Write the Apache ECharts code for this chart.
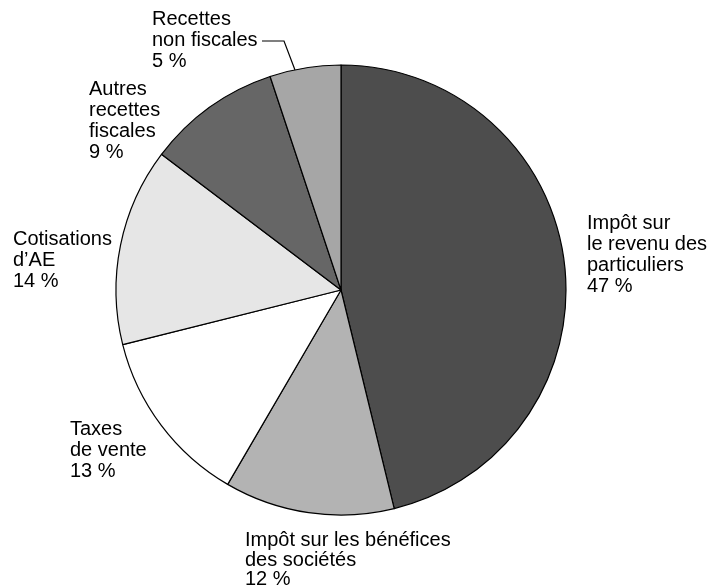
<!DOCTYPE html>
<html>
<head>
<meta charset="utf-8">
<script src="https://cdn.jsdelivr.net/npm/echarts@6/dist/echarts.min.js"></script>
<style>
  html, body { margin: 0; padding: 0; background: #fff; }
  #chart { width: 708px; height: 587px; }
</style>
</head>
<body>
<div id="chart"></div>
<script>
let categories = [
  'Impôt sur\nle revenu des\nparticuliers',
  'Impôt sur les bénéfices\ndes sociétés',
  'Taxes\nde vente',
  'Cotisations\nd’AE',
  'Autres\nrecettes\nfiscales',
  'Recettes\nnon fiscales'
];
let shares = [46.2, 12.2, 12.7, 14.2, 9.6, 5.1];
let percentLabels = ['47 %', '12 %', '13 %', '14 %', '9 %', '5 %'];
let fills = ['#4d4d4d', '#b3b3b3', '#ffffff', '#e6e6e6', '#666666', '#a6a6a6'];

// where each label block sits (left, top)
let labelPos = [[587, 213], [245, 531], [70, 419], [13, 229], [89, 79], [152, 9]];

let chart = echarts.init(document.getElementById('chart'));

chart.setOption({
  animation: false,
  series: [{
    type: 'pie',
    center: [341, 290],
    radius: [0, 225],
    startAngle: 90,
    clockwise: true,
    itemStyle: { borderColor: '#000', borderWidth: 1.2 },
    emphasis: { disabled: true },
    label: {
      show: true,
      position: 'outside',
      formatter: p => p.name + '\n' + percentLabels[p.dataIndex],
      fontFamily: '"Liberation Sans", Arial, sans-serif',
      fontSize: 20,
      lineHeight: 21,
      color: '#000',
      align: 'left',
      overflow: 'none'
    },
    labelLine: { show: false, lineStyle: { color: '#000', width: 1.2 } },
    labelLayout: p => {
      let pos = labelPos[p.dataIndex];
      let out = { x: pos[0], y: pos[1], align: 'left', verticalAlign: 'top' };
      if (p.dataIndex === 5) {
        out.labelLinePoints = [[295, 70], [284, 41], [262, 41]];
      }
      return out;
    },
    data: categories.map((c, i) => ({
      name: c,
      value: shares[i],
      itemStyle: { color: fills[i] },
      labelLine: { show: i === 5 },
      // bottom label is a little tighter so it stays inside the frame
      label: i === 1 ? { lineHeight: 19.5 } : undefined
    }))
  }]
});
</script>
</body>
</html>
